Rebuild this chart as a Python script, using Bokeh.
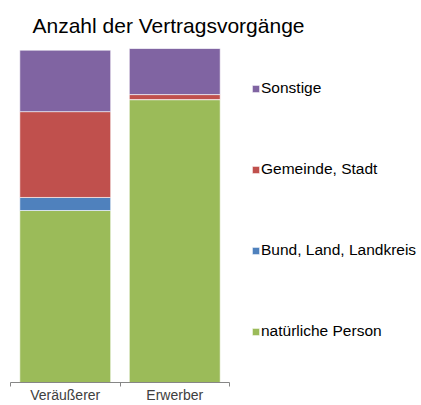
from bokeh.plotting import figure
from bokeh.models import Range1d, FixedTicker, Legend, LegendItem, ColumnDataSource, Title
from bokeh.embed import file_html
from bokeh.resources import INLINE

title_text = "Anzahl der Vertragsvorgänge"
categories = ["Veräußerer", "Erwerber"]
series_names = ["natürliche Person", "Bund, Land, Landkreis", "Gemeinde, Stadt", "Sonstige"]
natuerliche_person = [515, 847]
bund_land_landkreis = [39, 0]
gemeinde_stadt = [257, 15]
sonstige = [184, 138]
colors = ["#9BBB59", "#4F81BD", "#C0504D", "#8064A2"]

keys = ["s0", "s1", "s2", "s3"]
n = len(categories)
xs = [i + 0.5 for i in range(n)]
source = ColumnDataSource(dict(x=xs, s0=natuerliche_person, s1=bund_land_landkreis,
                               s2=gemeinde_stadt, s3=sonstige))

# plot area: bars occupy the left 219 px of a 411 px wide frame, legend sits in the rest
frame_w = 411
bars_w = 219
p = figure(width=421, height=405, output_backend="svg", toolbar_location=None,
           x_range=Range1d(0, n * frame_w / bars_w), y_range=Range1d(0, 1000),
           y_axis_location=None, min_border_left=10, min_border_right=0,
           min_border_top=47, min_border_bottom=0)
p.outline_line_color = None
p.xgrid.visible = False
p.ygrid.visible = False

t = Title(text=title_text, align="left", offset=22, standoff=23,
          text_font="Liberation Sans", text_font_size="21px", text_font_style="normal",
          text_color="#000000")
p.add_layout(t, "above")

renderers = p.vbar_stack(keys, x="x", width=0.83, color=colors, source=source,
                         line_color="white", line_alpha=0.6, line_width=1)

items = [LegendItem(label=series_names[i], renderers=[renderers[i]]) for i in range(4)]
items.reverse()
legend = Legend(items=items, location=(241, 41), glyph_width=9, glyph_height=9,
                label_standoff=1, label_text_font="Liberation Sans", label_text_font_size="15.5px",
                label_text_color="#000000", label_height=20, spacing=61, padding=0, margin=0,
                border_line_color=None, background_fill_alpha=0)
p.add_layout(legend)

ax = p.xaxis[0]
ax.bounds = (0, n)
ax.ticker = FixedTicker(ticks=xs, minor_ticks=list(range(n + 1)))
ax.major_label_overrides = {xs[i]: categories[i] for i in range(n)}
ax.major_tick_out = 0
ax.major_tick_in = 0
ax.major_tick_line_color = None
ax.minor_tick_out = 4
ax.minor_tick_in = 0
ax.minor_tick_line_color = "#868686"
ax.axis_line_color = "#868686"
ax.major_label_standoff = 0
ax.major_label_text_font = "Liberation Sans"
ax.major_label_text_font_size = "14px"
ax.major_label_text_color = "#404040"

open("out.html", "w").write(file_html(p, INLINE))
